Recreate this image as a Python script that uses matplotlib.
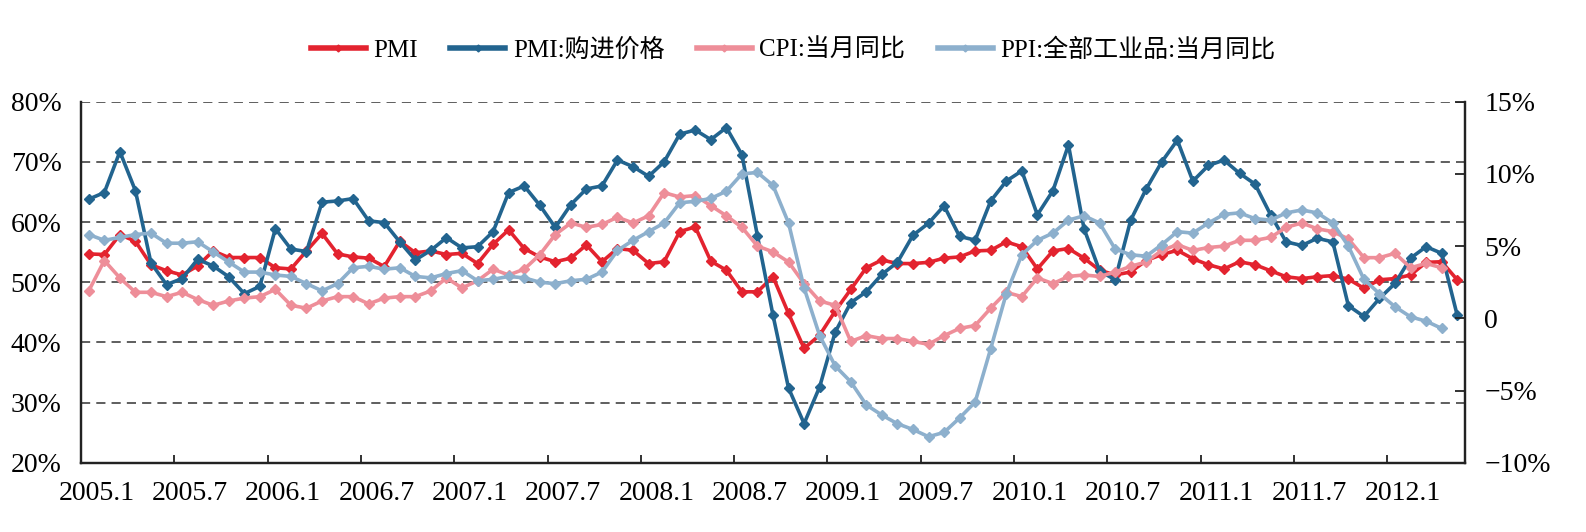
import matplotlib
matplotlib.use('Agg')
import matplotlib.pyplot as plt
from matplotlib.lines import Line2D
import numpy as np

plt.rcParams['font.family'] = ['Liberation Serif', 'Noto Sans CJK SC']

# monthly, 2005.1 - 2012.5 (PMI series), CPI / PPI end at 2012.4
pmi = [54.7, 54.6, 57.9, 56.8, 52.9, 51.9, 51.2, 52.7, 55.2, 54.1, 54.1, 54.1,
       52.4, 52.2, 55.2, 58.1, 54.7, 54.2, 54.0, 52.6, 56.8, 54.9, 55.2, 54.6,
       54.8, 53.1, 56.3, 58.7, 55.6, 54.2, 53.4, 54.0, 56.2, 53.4, 55.6, 55.3,
       53.1, 53.4, 58.4, 59.2, 53.5, 52.0, 48.4, 48.4, 50.9, 44.8, 39.0, 41.2,
       45.2, 48.8, 52.4, 53.7, 53.1, 53.1, 53.3, 54.0, 54.2, 55.2, 55.3, 56.7,
       55.9, 52.2, 55.2, 55.6, 54.0, 52.0, 51.2, 51.7, 53.6, 54.6, 55.3, 53.9,
       52.9, 52.2, 53.4, 52.9, 51.9, 50.9, 50.6, 50.9, 51.1, 50.5, 49.0, 50.4,
       50.6, 51.2, 53.3, 53.4, 50.4]

pmi_price = [63.8, 64.9, 71.7, 65.2, 53.2, 49.6, 50.6, 53.8, 52.7, 50.9, 48.1, 49.3,
             58.9, 55.5, 55.1, 63.3, 63.5, 63.9, 60.2, 59.9, 56.7, 53.7, 55.3, 57.4,
             55.7, 55.9, 58.4, 64.9, 66.0, 62.8, 59.1, 62.9, 65.5, 66.0, 70.3, 69.2,
             67.6, 70.0, 74.6, 75.3, 73.7, 75.7, 71.2, 57.7, 44.5, 32.4, 26.5, 32.6,
             41.7, 46.6, 48.4, 51.3, 53.3, 57.8, 59.8, 62.7, 57.6, 57.0, 63.5, 66.8,
             68.5, 61.2, 65.2, 72.8, 58.9, 51.9, 50.4, 60.3, 65.5, 70.0, 73.6, 66.8,
             69.4, 70.3, 68.1, 66.3, 61.2, 56.7, 56.1, 57.3, 56.7, 46.1, 44.3, 47.3,
             49.8, 54.0, 55.9, 54.8, 44.5]

cpi = [1.9, 4.0, 2.8, 1.8, 1.8, 1.5, 1.8, 1.3, 0.9, 1.2, 1.4, 1.5,
       2.0, 0.9, 0.7, 1.2, 1.5, 1.5, 1.0, 1.4, 1.5, 1.5, 1.9, 2.8,
       2.1, 2.6, 3.4, 3.0, 3.4, 4.4, 5.8, 6.6, 6.3, 6.5, 7.0, 6.6,
       7.1, 8.7, 8.4, 8.5, 7.8, 7.1, 6.3, 5.0, 4.6, 3.9, 2.4, 1.2,
       0.9, -1.6, -1.2, -1.4, -1.4, -1.6, -1.8, -1.2, -0.7, -0.5, 0.7, 1.8,
       1.5, 2.8, 2.4, 2.9, 3.0, 2.9, 3.2, 3.6, 3.9, 4.7, 5.1, 4.7,
       4.9, 5.0, 5.4, 5.4, 5.6, 6.3, 6.6, 6.2, 6.0, 5.5, 4.2, 4.2,
       4.5, 3.5, 3.8, 3.5]

ppi = [5.8, 5.4, 5.6, 5.8, 5.9, 5.2, 5.2, 5.3, 4.6, 3.9, 3.2, 3.2,
       3.0, 2.9, 2.4, 1.9, 2.4, 3.5, 3.6, 3.4, 3.5, 2.9, 2.8, 3.1,
       3.3, 2.6, 2.7, 2.9, 2.8, 2.5, 2.4, 2.6, 2.7, 3.2, 4.7, 5.4,
       6.0, 6.6, 8.0, 8.1, 8.3, 8.8, 10.0, 10.1, 9.2, 6.6, 2.1, -1.2,
       -3.3, -4.4, -6.0, -6.7, -7.3, -7.7, -8.2, -7.9, -6.9, -5.8, -2.1, 1.7,
       4.4, 5.4, 5.9, 6.8, 7.1, 6.6, 4.8, 4.4, 4.3, 5.1, 6.0, 5.9,
       6.6, 7.2, 7.3, 6.9, 6.8, 7.3, 7.5, 7.3, 6.6, 5.0, 2.7, 1.7,
       0.8, 0.1, -0.2, -0.7]

x_labels = ['2005.1', '2005.7', '2006.1', '2006.7', '2007.1', '2007.7', '2008.1', '2008.7',
            '2009.1', '2009.7', '2010.1', '2010.7', '2011.1', '2011.7', '2012.1']
left_ticks = [20, 30, 40, 50, 60, 70, 80]
left_labels = ['20%', '30%', '40%', '50%', '60%', '70%', '80%']
right_ticks = [-10, -5, 0, 5, 10, 15]
right_labels = ['\u221210%', '\u22125%', '0', '5%', '10%', '15%']

names = ['PMI', 'PMI:购进价格', 'CPI:当月同比', 'PPI:全部工业品:当月同比']
colors = ['#E3232F', '#22648F', '#EE8E99', '#8DB0CD']

W, H = 1586, 532
fig = plt.figure(figsize=(W / 100, H / 100), dpi=100)
ax = fig.add_axes([81 / W, 1 - 462.7 / H, (1465 - 81) / W, (462.7 - 101.7) / H])
ax2 = ax.twinx()

lw, ms = 2.6, 5
ax.plot(np.arange(len(pmi)), pmi, color=colors[0], lw=lw, marker='D', ms=ms)
ax.plot(np.arange(len(pmi_price)), pmi_price, color=colors[1], lw=lw, marker='D', ms=ms)
ax2.plot(np.arange(len(cpi)), cpi, color=colors[2], lw=lw, marker='D', ms=ms)
ax2.plot(np.arange(len(ppi)), ppi, color=colors[3], lw=lw, marker='D', ms=ms)

ax.set_xlim(-0.5, len(pmi) - 0.5)
ax.set_ylim(20, 80)
ax2.set_ylim(-10, 15)

ax.set_yticks(left_ticks)
ax.set_yticklabels(left_labels)
ax2.set_yticks(right_ticks)
ax2.set_yticklabels(right_labels)

# tick marks between label groups, labels offset by half a month
ax.set_xticks(np.arange(5.5, len(pmi) - 1, 6))
ax.set_xticklabels([])
ax.set_xticks(np.arange(0.5, len(pmi), 6), minor=True)
ax.set_xticklabels(x_labels, minor=True)
ax.tick_params(axis='x', which='major', direction='in', length=6, width=1.3, color='#222')
ax.tick_params(axis='x', which='minor', length=0, pad=13, labelsize=20)
ax.tick_params(axis='y', length=0, pad=14, labelsize=20)
ax2.tick_params(axis='y', direction='in', length=7, width=1.3, color='#222', pad=14, labelsize=20)

ax.grid(axis='y', ls=(0, (6, 4)), color='#333333', lw=1.1)
ax.set_axisbelow(True)

for a in (ax, ax2):
    a.spines['top'].set_visible(False)
    for s in ('left', 'right', 'bottom'):
        a.spines[s].set_color('#222222')
        a.spines[s].set_linewidth(1.6)

handles = [Line2D([], [], color=c, lw=4, marker='D', ms=3.5) for c in colors]
fig.legend(handles, names, loc='center', bbox_to_anchor=(0.5, 1 - 50 / H), ncol=4,
           frameon=False, fontsize=18, handlelength=2.2, columnspacing=1.3,
           handletextpad=0.3)

fig.savefig('out.png', dpi=100)
